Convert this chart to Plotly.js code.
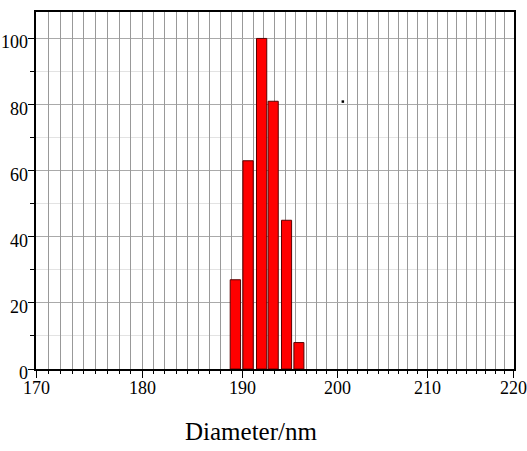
<!DOCTYPE html>
<html>
<head>
<meta charset="utf-8">
<script src="https://cdn.plot.ly/plotly-3.0.1.min.js"></script>
<style>
html,body{margin:0;padding:0;background:#fff;}
#chart{width:527px;height:451px;}
</style>
</head>
<body>
<div id="chart"></div>
<script>
// Data
const diameters = [189.3, 190.6, 192.0, 193.2, 194.6, 195.9];
const intensity = [27, 63, 100, 81, 45, 8];
const strayX = [200.6];
const strayY = [80.9];
const xTickVals = [170, 180, 190, 200, 210, 220];
const xTickText = ['170', '180', '190', '200', '210', '220'];
const yTickVals = [0, 20, 40, 60, 80, 100];
const yTickText = ['0', '20', '40', '60', '80', '100'];

// minor x grid: 9 divisions between each labelled value
const xMinor = [];
for (let i = 0; i < xTickVals.length - 1; i++) {
  for (let k = 1; k < 9; k++) {
    xMinor.push(xTickVals[i] + (xTickVals[i + 1] - xTickVals[i]) * k / 9);
  }
}

const serif = 'Liberation Serif';
const xRange = [Math.log10(169.99), Math.log10(220.01)];
const labelFont = {family: serif, size: 18, color: '#000'};

const traces = [
  {
    type: 'bar',
    x: diameters,
    y: intensity,
    width: diameters.map(() => 1.06),
    marker: {color: '#ff0000', line: {color: '#5a0000', width: 1}}
  },
  {
    type: 'scatter',
    mode: 'markers',
    xaxis: 'x2',
    yaxis: 'y',
    x: strayX,
    y: strayY,
    marker: {color: '#000', size: 2.5, symbol: 'square'}
  }
];

// tick labels as real text annotations, placed through the axes
const annotations = [];
xTickVals.forEach(function (v, i) {
  annotations.push({
    text: xTickText[i],
    xref: 'x', yref: 'paper',
    x: Math.log10(v), y: -0.053,
    xanchor: 'center', yanchor: 'middle',
    showarrow: false,
    font: labelFont
  });
});
yTickVals.forEach(function (v, i) {
  annotations.push({
    text: yTickText[i],
    xref: 'paper', yref: 'y',
    x: -0.013, y: v,
    yshift: -4,
    xanchor: 'right', yanchor: 'middle',
    showarrow: false,
    font: labelFont
  });
});
annotations.push({
  text: 'Diameter/nm',
  xref: 'paper', yref: 'paper',
  x: 0.45, y: -0.175,
  xanchor: 'center', yanchor: 'middle',
  showarrow: false,
  font: {family: serif, size: 25, color: '#000'}
});

const layout = {
  width: 527,
  height: 451,
  margin: {l: 36, r: 13, t: 12, b: 82},
  showlegend: false,
  font: {family: serif, size: 17, color: '#000'},
  xaxis: {
    type: 'log',
    range: xRange,
    tickmode: 'array',
    tickvals: xTickVals,
    showticklabels: false,
    ticks: 'outside',
    ticklen: 7,
    tickcolor: '#000',
    showgrid: true,
    gridcolor: '#999',
    showline: true,
    linecolor: '#000',
    linewidth: 1.5,
    mirror: true,
    zeroline: false
  },
  xaxis2: {
    type: 'log',
    overlaying: 'x',
    anchor: 'y',
    side: 'bottom',
    range: xRange,
    tickmode: 'array',
    tickvals: xMinor,
    ticks: 'outside',
    ticklen: 4,
    tickcolor: '#000',
    showticklabels: false,
    showgrid: true,
    gridcolor: '#999',
    showline: false,
    zeroline: false
  },
  yaxis: {
    range: [0, 108],
    tickmode: 'array',
    tickvals: yTickVals,
    showticklabels: false,
    ticks: 'outside',
    ticklen: 6,
    tickcolor: '#000',
    showgrid: true,
    gridcolor: '#aaa',
    showline: true,
    linecolor: '#000',
    linewidth: 1.5,
    mirror: true,
    zeroline: false,
    minor: {
      dtick: 10,
      ticks: 'outside',
      ticklen: 4,
      showgrid: true
    }
  },
  annotations: annotations
};

Plotly.newPlot('chart', traces, layout, {displayModeBar: false});
</script>
</body>
</html>
